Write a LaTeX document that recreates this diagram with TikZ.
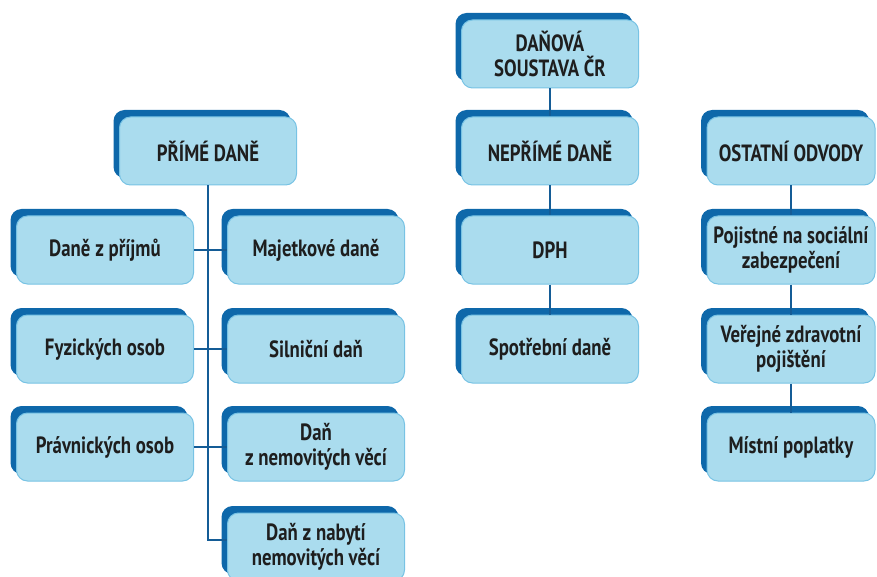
\documentclass[tikz,border=0pt]{standalone}
\usepackage{fontspec}
\setmainfont{PT Sans}[FakeStretch=0.8]
\usetikzlibrary{shadows,calc}
\definecolor{boxfill}{RGB}{170,220,238}
\definecolor{boxedge}{RGB}{120,195,228}
\definecolor{shadowblue}{RGB}{14,104,170}
\definecolor{linkblue}{RGB}{20,92,150}
\definecolor{textcol}{RGB}{30,30,30}
\begin{document}
\begin{tikzpicture}[x=1pt,y=-1pt,
  taxbox/.style={draw=boxedge, line width=1pt, fill=boxfill, rounded corners=11pt,
    minimum width=177pt, minimum height=68pt, inner sep=2pt, align=center,
    font=\fontsize{23.5}{24.5}\selectfont\bfseries, text=textcol,
    general shadow={fill=shadowblue, draw=none, shadow xshift=-6pt, shadow yshift=7pt}},
  link/.style={draw=linkblue, line width=1.6pt}]
\useasboundingbox (0,0) rectangle (877,577);
\begin{scope}
\clip (0,0) rectangle (877,577);
% nodes
\node[taxbox] (title) at (550,54) {DAŇOVÁ\\SOUSTAVA ČR};
\node[taxbox] (prime) at (208,151) {PŘÍMÉ DANĚ};
\node[taxbox] (neprime) at (550,151) {NEPŘÍMÉ DANĚ};
\node[taxbox, minimum width=168pt] (ostatni) at (791,151) {OSTATNÍ ODVODY};
\node[taxbox] (prijmy) at (105,250) {Daně z příjmů};
\node[taxbox] (majetek) at (316,250) {Majetkové daně};
\node[taxbox] (dph) at (550,250) {DPH};
\node[taxbox, minimum width=168pt] (socialni) at (791,250) {Pojistné na sociální\\zabezpečení};
\node[taxbox] (fyzicke) at (105,349) {Fyzických osob};
\node[taxbox] (silnicni) at (316,349) {Silniční daň};
\node[taxbox] (spotrebni) at (550,349) {Spotřební daně};
\node[taxbox, minimum width=168pt] (zdravotni) at (791,349) {Veřejné zdravotní\\pojištění};
\node[taxbox] (pravnicke) at (105,447) {Právnických osob};
\node[taxbox] (nemovite) at (316,447) {Daň\\z nemovitých věcí};
\node[taxbox, minimum width=168pt] (mistni) at (791,447) {Místní poplatky};
\node[taxbox] (nabyti) at (316,547) {Daň z nabytí\\nemovitých věcí};
% connectors
\draw[link] (title.south) -- (neprime.north);
\draw[link] (neprime.south) -- (dph.north);
\draw[link] (dph.south) -- (spotrebni.north);
\draw[link] (ostatni.south) -- (socialni.north);
\draw[link] (socialni.south) -- (zdravotni.north);
\draw[link] (zdravotni.south) -- (mistni.north);
\coordinate (nabytiin) at ($(nabyti.west)+(0,-7)$);
\draw[link] (prime.south) -- (prime.south |- nabytiin) -- (nabytiin);
\draw[link] (prijmy.east) -- (majetek.west);
\draw[link] (fyzicke.east) -- (silnicni.west);
\draw[link] (pravnicke.east) -- (nemovite.west);
\end{scope}
\end{tikzpicture}
\end{document}
